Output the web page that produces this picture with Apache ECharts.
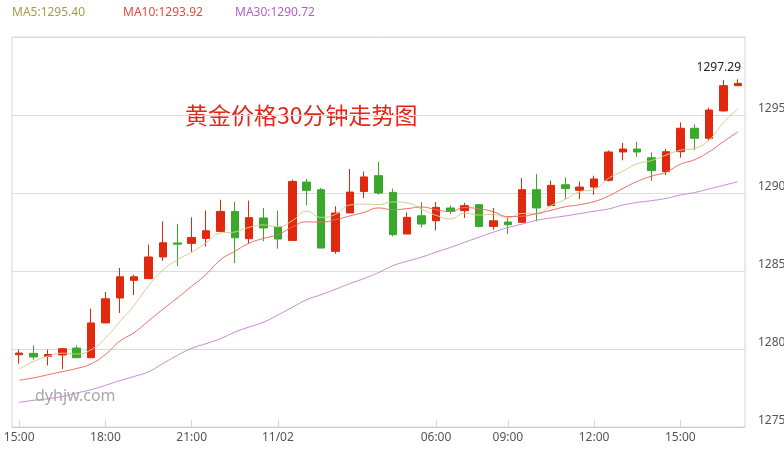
<!DOCTYPE html>
<html><head><meta charset="utf-8">
<script src="https://cdn.jsdelivr.net/npm/echarts/dist/echarts.min.js"></script>
<style>html,body{margin:0;padding:0;background:#fff}#c{width:784px;height:450px}</style>
</head><body><div id="c"></div>
<script>
const categories = [
 '11/01 15:00','11/01 15:30','11/01 16:00','11/01 16:30','11/01 17:00','11/01 17:30',
 '11/01 18:00','11/01 18:30','11/01 19:00','11/01 19:30','11/01 20:00','11/01 20:30',
 '11/01 21:00','11/01 21:30','11/01 22:00','11/01 22:30','11/01 23:00','11/01 23:30',
 '11/02 00:00','11/02 00:30','11/02 01:00','11/02 01:30','11/02 02:00','11/02 02:30',
 '11/02 03:00','11/02 03:30','11/02 04:00','11/02 04:30','11/02 05:00','11/02 06:00',
 '11/02 06:30','11/02 07:00','11/02 07:30','11/02 08:00','11/02 09:00','11/02 09:30',
 '11/02 10:00','11/02 10:30','11/02 11:00','11/02 11:30','11/02 12:00','11/02 12:30',
 '11/02 13:00','11/02 13:30','11/02 14:00','11/02 14:30','11/02 15:00','11/02 15:30',
 '11/02 16:00','11/02 16:30','11/02 17:00'
];
const openV = [1279.63,1279.72,1279.53,1279.62,1280.06,1279.44,1281.67,1283.27,1284.40,1284.51,
 1285.90,1286.80,1286.77,1287.09,1287.54,1288.82,1287.07,1288.40,1287.82,1286.96,
 1290.70,1290.21,1286.26,1288.72,1290.10,1291.11,1290.04,1287.37,1288.54,1288.22,
 1289.04,1288.87,1289.25,1287.86,1288.14,1288.12,1290.21,1289.19,1290.53,1290.17,
 1290.38,1290.81,1292.63,1292.82,1292.26,1291.37,1292.65,1294.15,1293.51,1295.26,1296.88];
const closeV = [1279.74,1279.49,1279.65,1280.02,1279.44,1281.67,1283.22,1284.63,1284.63,1285.90,
 1286.81,1286.72,1287.15,1287.58,1288.82,1287.13,1288.42,1287.76,1287.05,1290.74,
 1290.17,1286.47,1288.72,1290.06,1291.03,1290.00,1287.33,1288.44,1288.01,1289.08,
 1288.82,1289.19,1287.86,1288.22,1287.97,1290.21,1289.04,1290.49,1290.28,1290.38,
 1290.90,1292.63,1292.82,1292.63,1291.43,1292.65,1294.15,1293.51,1295.32,1296.88,1297.03];
const lowV = [1279.06,1279.31,1278.95,1278.72,1279.42,1279.42,1281.67,1282.31,1283.46,1284.51,
 1285.66,1285.30,1286.22,1286.56,1287.54,1285.51,1286.79,1286.90,1286.43,1286.96,
 1289.21,1286.47,1286.11,1288.72,1289.68,1289.89,1287.22,1287.37,1287.79,1287.60,
 1288.65,1288.40,1287.79,1287.65,1287.37,1288.12,1288.18,1289.19,1289.62,1289.62,
 1289.89,1290.74,1292.09,1292.33,1290.77,1291.15,1292.26,1292.76,1293.33,1295.21,1296.88];
const highV = [1279.96,1280.23,1279.96,1280.06,1280.23,1282.58,1283.65,1285.19,1284.76,1286.69,
 1288.18,1288.01,1288.44,1288.88,1289.57,1289.42,1289.51,1289.04,1288.87,1290.85,
 1290.90,1290.32,1289.15,1291.54,1291.38,1291.99,1290.28,1288.76,1289.42,1289.42,
 1289.19,1289.36,1289.29,1289.04,1288.44,1290.96,1291.22,1290.79,1291.00,1290.74,
 1291.11,1292.73,1293.21,1293.29,1292.61,1292.82,1294.53,1294.40,1295.47,1297.24,1297.29];
const ma5 = [1278.70,1279.20,1279.53,1279.73,1279.68,1279.95,1280.70,1281.75,1282.80,1284.05,
 1285.06,1285.72,1286.20,1286.80,1287.43,1287.50,1287.80,1287.95,1287.84,1288.22,
 1288.83,1288.44,1288.63,1289.23,1289.29,1289.26,1289.43,1289.37,1288.96,1288.57,
 1288.34,1288.71,1288.59,1288.63,1288.41,1288.69,1288.66,1289.19,1289.60,1290.08,
 1290.22,1290.94,1291.40,1291.87,1292.08,1292.43,1292.74,1292.87,1293.41,1294.50,1295.40];
const ma10 = [1278.00,1278.15,1278.35,1278.55,1278.75,1279.05,1279.65,1280.50,1281.05,1281.80,
 1282.55,1283.27,1284.02,1284.78,1285.71,1286.26,1286.78,1287.09,1287.33,1287.82,
 1288.15,1288.13,1288.29,1288.53,1288.76,1289.04,1288.93,1289.00,1289.10,1288.93,
 1288.80,1289.07,1288.98,1288.80,1288.49,1288.51,1288.68,1288.89,1289.12,1289.25,
 1289.45,1289.80,1290.29,1290.74,1291.08,1291.33,1291.84,1292.14,1292.64,1293.29,1293.92];
const ma30 = [1276.58,1276.71,1276.81,1276.96,1277.18,1277.39,1277.67,1277.97,1278.24,1278.54,
 1279.07,1279.59,1280.04,1280.34,1280.66,1281.08,1281.41,1281.72,1282.18,1282.67,
 1283.16,1283.48,1283.83,1284.19,1284.52,1284.90,1285.34,1285.63,1285.89,1286.21,
 1286.51,1286.84,1287.17,1287.49,1287.78,1288.01,1288.25,1288.40,1288.53,1288.68,
 1288.83,1288.98,1289.23,1289.39,1289.51,1289.65,1289.87,1290.03,1290.26,1290.49,1290.72];
const tickIndex = [0, 6, 12, 18, 29, 34, 40, 46];
const tickText = ['15:00','18:00','21:00','11/02','06:00','09:00','12:00','15:00'];
const yMin = 1275, yMax = 1300, yStep = 5;
const legendText = ['MA5:1295.40', 'MA10:1293.92', 'MA30:1290.72'];
const titleText = '黄金价格30分钟走势图';
const watermark = 'dyhjw.com';

const UP = '#e0290f', DOWN = '#3aa82b';
const FONT = '"Noto Sans", "Noto Sans CJK SC", sans-serif';
const kData = openV.map((o, i) => [o, closeV[i], lowV[i], highV[i]]);
const maxHigh = Math.max(...highV);
const maxIdx = highV.indexOf(maxHigh);
const isTick = (i) => tickIndex.indexOf(i) >= 0;

const chart = echarts.init(document.getElementById('c'), null, {renderer: 'canvas'});
chart.setOption({
  animation: false,
  backgroundColor: '#fff',
  grid: {left: 12, right: 39, top: 37, bottom: 23, show: true, borderColor: '#d4d4d4', borderWidth: 1,
         containLabel: false, outerBoundsMode: 'none'},
  xAxis: {
    type: 'category', data: categories, boundaryGap: true,
    axisLine: {lineStyle: {color: '#c9d3df'}},
    axisTick: {show: true, inside: true, length: 7, interval: (i) => isTick(i), alignWithLabel: true, lineStyle: {color: '#d0d6de'}},
    axisLabel: {interval: (i) => isTick(i), formatter: (v, i) => tickText[tickIndex.indexOf(i)] || '',
      color: '#555', fontSize: 12, fontFamily: FONT, margin: 5},
    splitLine: {show: false}
  },
  yAxis: {
    type: 'value', position: 'right', min: yMin, max: yMax, interval: yStep,
    axisLine: {show: false}, axisTick: {show: false},
    axisLabel: {color: '#555', fontSize: 12, fontFamily: FONT, margin: 13, verticalAlign: 'bottom',
      showMaxLabel: false, formatter: (v) => String(v)},
    splitLine: {lineStyle: {color: '#dcdcdc'}}
  },
  series: [
    {type: 'candlestick', data: kData, barWidth: 8,
     itemStyle: {color: UP, color0: DOWN, borderColor: UP, borderColor0: DOWN, borderWidth: 1},
     markPoint: {symbol: 'circle', symbolSize: 0,
       data: [{coord: [maxIdx, maxHigh], value: maxHigh}],
       label: {show: true, position: 'inside', offset: [-19, -12], formatter: (p) => p.value.toFixed(2),
         color: '#222', fontSize: 12, fontFamily: FONT}}},
    {type: 'line', data: ma5, smooth: true, showSymbol: false, lineStyle: {color: '#d3cd8c', width: 1}, z: 3},
    {type: 'line', data: ma10, smooth: true, showSymbol: false, lineStyle: {color: '#ec6a64', width: 1}, z: 3},
    {type: 'line', data: ma30, smooth: true, showSymbol: false, lineStyle: {color: '#c688d6', width: 1}, z: 3}
  ],
  graphic: [
    {type: 'text', left: 12, top: 7, style: {text: legendText[0], fill: '#a39f45', fontSize: 12, fontFamily: FONT}},
    {type: 'text', left: 123, top: 7, style: {text: legendText[1], fill: '#e64a3e', fontSize: 12, fontFamily: FONT}},
    {type: 'text', left: 235, top: 7, style: {text: legendText[2], fill: '#b063c6', fontSize: 12, fontFamily: FONT}},
    {type: 'text', left: 185, top: 104, style: {text: titleText, fill: '#e3251a', fontSize: 23, fontFamily: '"Noto Sans CJK SC", sans-serif'}},
    {type: 'text', left: 35, top: 388, style: {text: watermark, fill: '#a8a8a8', fontSize: 16, fontFamily: FONT}}
  ]
});
</script></body></html>
